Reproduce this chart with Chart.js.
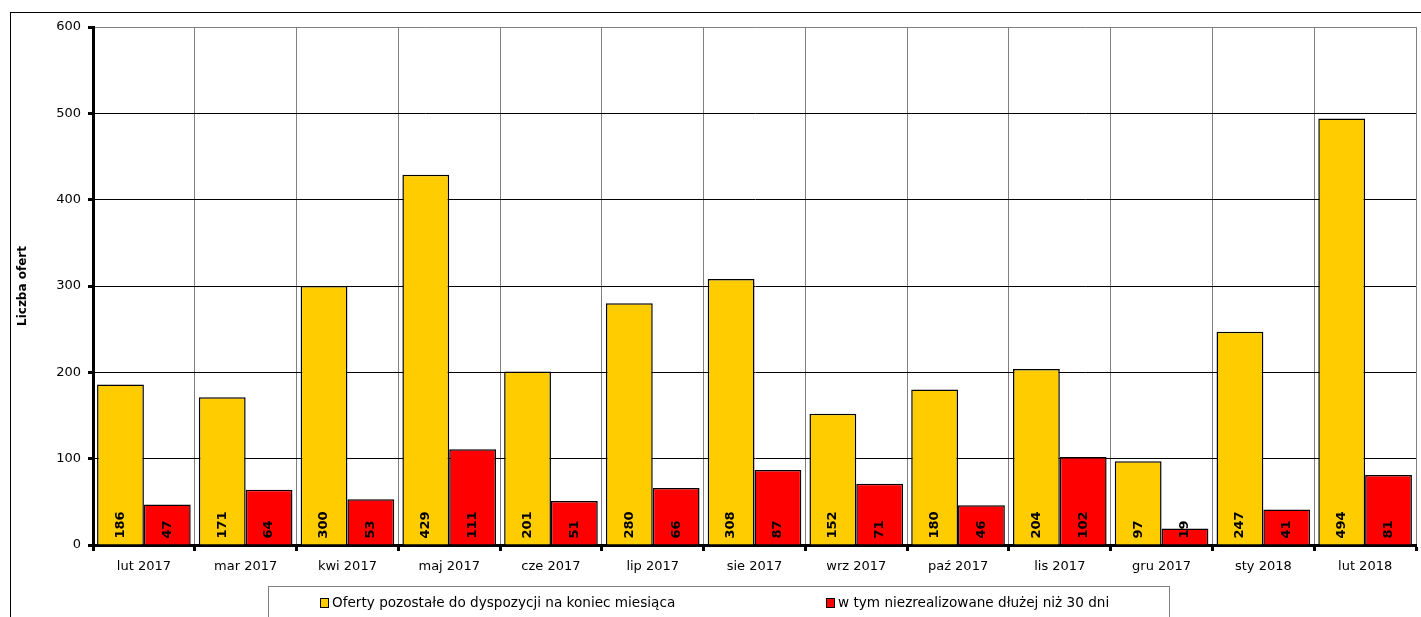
<!DOCTYPE html>
<html lang="pl">
<head>
  <meta charset="UTF-8" />
  <title>Liczba ofert</title>
  <script src="https://cdn.jsdelivr.net/npm/chart.js"></script>
  <style>
    html, body { margin: 0; padding: 0; background: #fff; }
    .page { position: relative; width: 1421px; height: 617px; overflow: hidden; }
    .frame { position: absolute; left: 10px; top: 12px; right: 0; bottom: -2px; border-left: 1px solid #000; border-top: 1px solid #000; }
    #chart { position: absolute; left: 0; top: 0; }
    .legend { position: absolute; left: 268px; top: 586px; width: 900px; height: 40px; border: 1px solid #808080; border-bottom: none; }
    .legend-item { position: absolute; top: 7px; font: 13.6px "DejaVu Sans", sans-serif; color: #000; white-space: nowrap; }
    .legend-item i { display: inline-block; width: 7px; height: 8px; border: 1.5px solid #000; margin-right: 3px; vertical-align: -1px; }
  </style>
</head>
<body>
  <div class="page">
    <div class="frame"></div>
    <canvas id="chart" width="1421" height="617"></canvas>
    <div class="legend" id="legend"></div>
  </div>

  <script>
    // dane
    const miesiace = ['lut 2017', 'mar 2017', 'kwi 2017', 'maj 2017', 'cze 2017', 'lip 2017', 'sie 2017',
      'wrz 2017', 'paź 2017', 'lis 2017', 'gru 2017', 'sty 2018', 'lut 2018'];
    const oferty = [186, 171, 300, 429, 201, 280, 308, 152, 180, 204, 97, 247, 494];
    const niezrealizowane = [47, 64, 53, 111, 51, 66, 87, 71, 46, 102, 19, 41, 81];
    const nazwySerii = ['Oferty pozostałe do dyspozycji na koniec miesiąca', 'w tym niezrealizowane dłużej niż 30 dni'];
    const kolory = ['#FFCC00', '#FF0000'];

    // etykiety wartości pionowo przy podstawie słupka
    const etykietyWartosci = {
      id: 'etykietyWartosci',
      afterDatasetsDraw(chart) {
        const ctx = chart.ctx;
        ctx.save();
        ctx.font = 'bold 13px "DejaVu Sans", sans-serif';
        ctx.fillStyle = '#000';
        chart.data.datasets.forEach((ds, i) => {
          chart.getDatasetMeta(i).data.forEach((bar, j) => {
            ctx.save();
            ctx.translate(bar.x, bar.base - 6);
            ctx.rotate(-Math.PI / 2);
            ctx.textAlign = 'left';
            ctx.textBaseline = 'middle';
            ctx.fillText(String(ds.data[j]), 0, 0);
            ctx.restore();
          });
        });
        ctx.restore();
      }
    };

    new Chart(document.getElementById('chart'), {
      type: 'bar',
      data: {
        labels: miesiace,
        datasets: [
          { label: nazwySerii[0], data: oferty, backgroundColor: kolory[0], borderColor: '#000', borderWidth: 1.5 },
          { label: nazwySerii[1], data: niezrealizowane, backgroundColor: kolory[1], borderColor: '#000', borderWidth: 1.5 }
        ]
      },
      options: {
        responsive: false,
        animation: false,
        layout: { padding: { left: 0, top: 27, right: 5, bottom: 0 } },
        datasets: { bar: { categoryPercentage: 0.92, barPercentage: 1 } },
        plugins: {
          legend: { display: false },
          tooltip: { enabled: false }
        },
        scales: {
          x: {
            afterFit: (s) => { s.height = 72; },
            grid: { offset: true, color: '#808080', lineWidth: 1, tickLength: 6, tickColor: '#000', tickWidth: 3 },
            border: { display: true, color: '#000', width: 3 },
            ticks: { color: '#000', padding: 8, font: { family: 'DejaVu Sans', size: 13 } }
          },
          y: {
            min: 0,
            max: 600,
            afterFit: (s) => { s.width = 93; },
            grid: {
              color: (c) => c.tick && c.tick.value === 600 ? '#808080' : '#000',
              lineWidth: 1, tickLength: 5, tickColor: '#000', tickWidth: 3
            },
            border: { display: true, color: '#000', width: 3 },
            ticks: { stepSize: 100, color: '#000', padding: 7, font: { family: 'DejaVu Sans', size: 13 } },
            title: {
              display: true, text: 'Liczba ofert', color: '#000',
              font: { family: 'DejaVu Sans', size: 12, weight: 'bold' },
              padding: { top: 16, bottom: 0 }
            }
          }
        }
      },
      plugins: [etykietyWartosci]
    });

    // legenda pod wykresem
    const legenda = document.getElementById('legend');
    const pozycje = [51, 557];
    nazwySerii.forEach((n, i) => {
      const el = document.createElement('div');
      el.className = 'legend-item';
      el.style.left = pozycje[i] + 'px';
      el.innerHTML = '<i style="background:' + kolory[i] + '"></i>' + n;
      legenda.appendChild(el);
    });
  </script>
</body>
</html>
